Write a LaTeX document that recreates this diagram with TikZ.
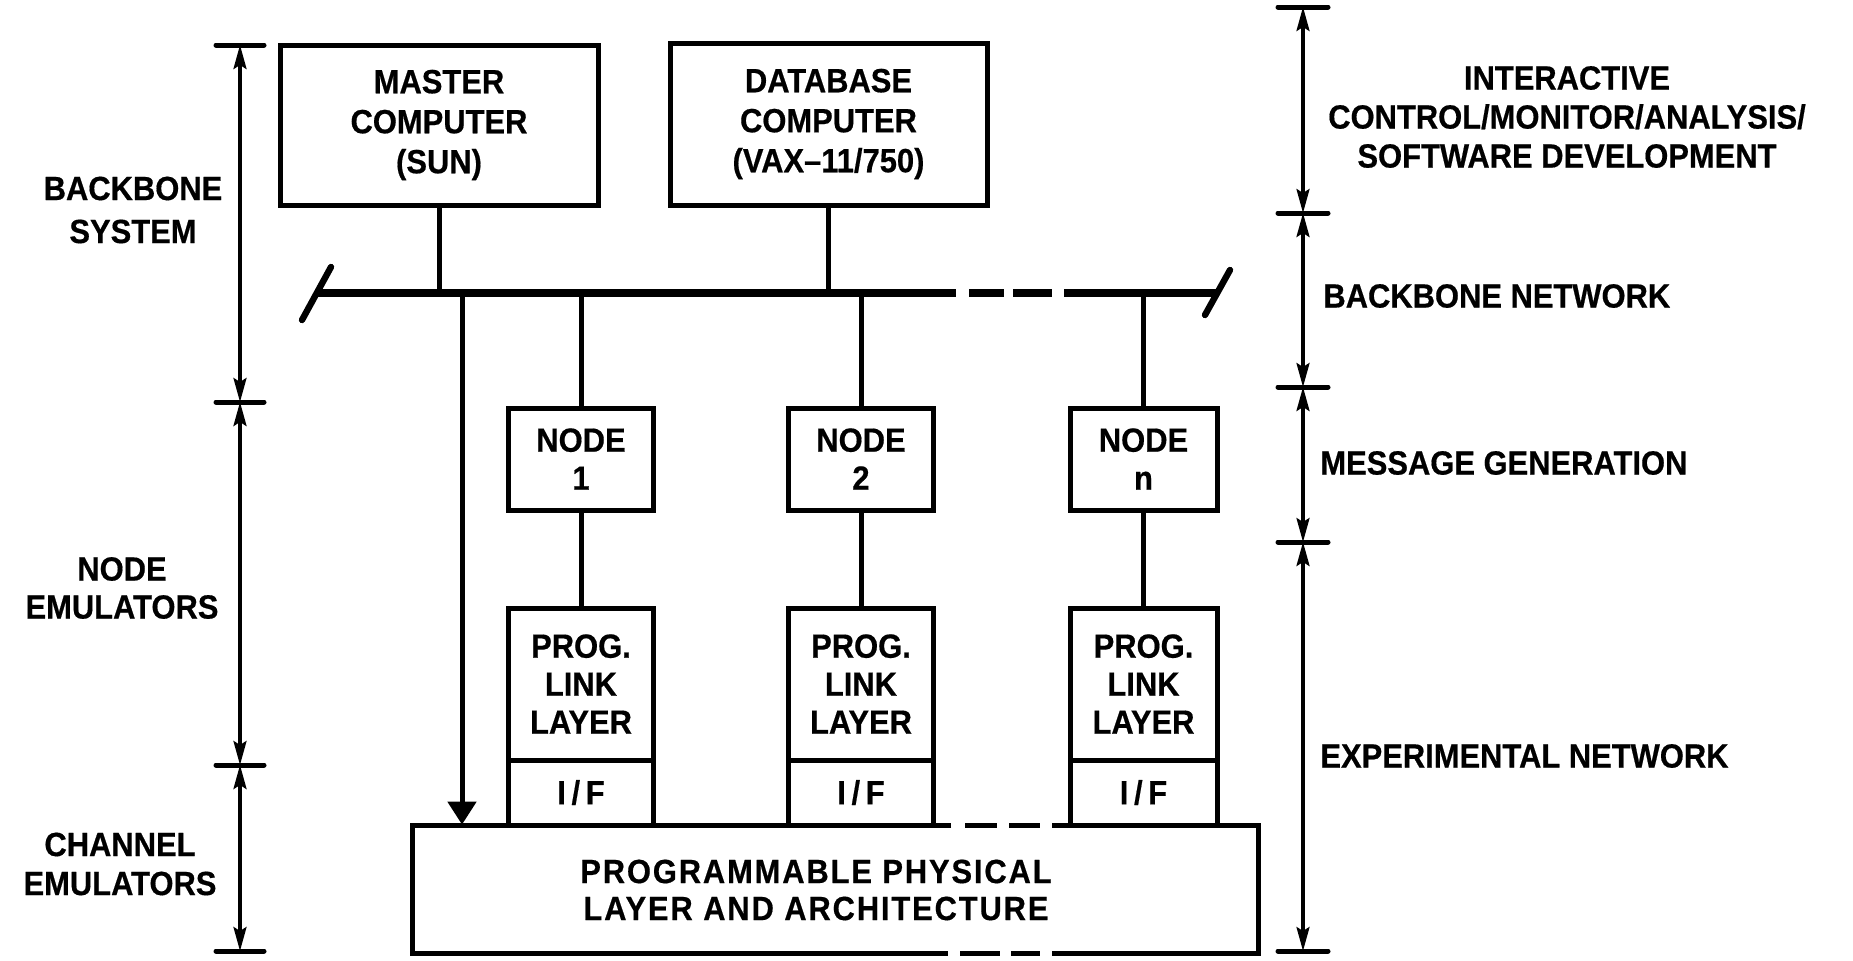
\documentclass[tikz,border=0pt]{standalone}
\usepackage{fontspec}
\newfontfamily\lbl{Liberation Sans}[FakeStretch=0.92, FakeBold=0.5]
\newfontfamily\lblwide{Liberation Sans}[FakeStretch=0.92, FakeBold=0.5, LetterSpace=5.5]
\usetikzlibrary{arrows.meta,calc}
\begin{document}
\begin{tikzpicture}[x=0.5pt,y=-0.5pt,
  every node/.style={font=\lbl\bfseries\fontsize{16.8}{20}\selectfont, align=center, inner sep=0pt},
  box/.style={draw, line width=2.5pt, rectangle},
  wire/.style={line width=2.5pt},
  bus/.style={line width=3.6pt},
  slash/.style={line width=3.2pt, line cap=round},
  dim/.style={line width=1.6pt, {Stealth[length=12pt,width=6.5pt,inset=2pt]}-{Stealth[length=12pt,width=6.5pt,inset=2pt]}},
  tickmark/.style={line width=2.5pt, line cap=round},
  bigarrow/.style={line width=2.5pt, -{Triangle[length=11.5pt,width=14pt]}}]
\useasboundingbox (0,0) rectangle (1853,960);

% top computers
\node[box, minimum width=159pt, minimum height=80pt] (master) at (439,125) {MASTER\\COMPUTER\\(SUN)};
\node[box, minimum width=158.5pt, minimum height=81pt] (db) at (828.5,124) {DATABASE\\COMPUTER\\(VAX–11/750)};

% node emulators
\node[box, minimum width=72.5pt, minimum height=51pt, font=\lbl\bfseries\fontsize{16.8}{19}\selectfont] (n1) at (581,459) {NODE\\1};
\node[box, minimum width=72.5pt, minimum height=51pt, font=\lbl\bfseries\fontsize{16.8}{19}\selectfont] (n2) at (861,459) {NODE\\2};
\node[box, minimum width=73.5pt, minimum height=51pt, font=\lbl\bfseries\fontsize{16.8}{19}\selectfont] (nn) at (1143.5,459) {NODE\\n};

\node[box, minimum width=72.5pt, minimum height=76pt, font=\lbl\bfseries\fontsize{16.8}{19}\selectfont] (p1) at (581,684) {PROG.\\LINK\\LAYER};
\node[box, minimum width=72.5pt, minimum height=76pt, font=\lbl\bfseries\fontsize{16.8}{19}\selectfont] (p2) at (861,684) {PROG.\\LINK\\LAYER};
\node[box, minimum width=73.5pt, minimum height=76pt, font=\lbl\bfseries\fontsize{16.8}{19}\selectfont] (pn) at (1143.5,684) {PROG.\\LINK\\LAYER};

\node[box, minimum width=72.5pt, minimum height=32.5pt] (i1) at (581,792.5) {I\,/\,F};
\node[box, minimum width=72.5pt, minimum height=32.5pt] (i2) at (861,792.5) {I\,/\,F};
\node[box, minimum width=73.5pt, minimum height=32.5pt] (in) at (1143.5,792.5) {I\,/\,F};

% physical layer
\node[minimum width=423pt, minimum height=64pt] (ppl) at (835,889) {};
\node[font=\lblwide\bfseries\fontsize{16.8}{18.5}\selectfont] (ppltext) at (816,890) {PROGRAMMABLE PHYSICAL\\LAYER AND ARCHITECTURE};
\draw[line width=2.5pt] (951,825) -- (412,825) -- (412,953) -- (948,953);
\draw[line width=2.5pt] (1052,825) -- (1258,825) -- (1258,953) -- (1052,953);
\draw[line width=2.5pt] (965,825) -- (997,825) (1009,825) -- (1040,825);
\draw[line width=2.5pt] (960,953) -- (1000,953) (1011,953) -- (1040,953);

% backbone bus
\coordinate (busL) at (317,293);
\coordinate (busR) at (1218,293);
\draw[bus] (busL) -- (956,293);
\draw[bus] (969,293) -- (1004,293) (1013,293) -- (1052,293);
\draw[bus] (1064,293) -- (busR);
\draw[slash] (302,320) -- (331,267);
\draw[slash] (1205,315) -- (1230,270);

% stubs
\draw[wire] (master.south) -- (master.south |- busL);
\draw[wire] (db.south) -- (db.south |- busL);
\draw[wire] (n1.north) -- (n1.north |- busL);
\draw[wire] (n2.north) -- (n2.north |- busL);
\draw[wire] (nn.north) -- (nn.north |- busL);
\draw[wire] (n1.south) -- (p1.north);
\draw[wire] (n2.south) -- (p2.north);
\draw[wire] (nn.south) -- (pn.north);
\coordinate (arrtop) at (462,293);
\draw[bigarrow] (arrtop) -- (arrtop |- ppl.north);

% left dimension
\coordinate (L0) at (240,45);
\coordinate (L1) at (240,402);
\coordinate (L2) at (240,765);
\coordinate (L3) at (240,951);
\draw[dim] (L0) -- (L1);
\draw[dim] (L1) -- (L2);
\draw[dim] (L2) -- (L3);
\foreach \p in {L0,L1,L2,L3} \draw[tickmark] ($(\p)+(-24,0)$) -- ($(\p)+(24,0)$);

% right dimension
\coordinate (R0) at (1303,7);
\coordinate (R1) at (1303,213);
\coordinate (R2) at (1303,387);
\coordinate (R3) at (1303,542);
\coordinate (R4) at (1303,951);
\draw[dim] (R0) -- (R1);
\draw[dim] (R1) -- (R2);
\draw[dim] (R2) -- (R3);
\draw[dim] (R3) -- (R4);
\foreach \p in {R0,R1,R2,R3,R4} \draw[tickmark] ($(\p)+(-25,0)$) -- ($(\p)+(25,0)$);

% labels
\node[font=\lbl\bfseries\fontsize{16.8}{21.5}\selectfont] (lblbb) at (133,210) {BACKBONE\\SYSTEM};
\node[font=\lbl\bfseries\fontsize{16.8}{19}\selectfont] (lblne) at (122,588) {NODE\\EMULATORS};
\node[font=\lbl\bfseries\fontsize{16.8}{19.5}\selectfont] (lblce) at (120,864) {CHANNEL\\EMULATORS};
\node[font=\lbl\bfseries\fontsize{16.8}{19.5}\selectfont] (lblia) at (1567,117) {INTERACTIVE\\CONTROL/MONITOR/ANALYSIS/\\SOFTWARE DEVELOPMENT};
\node[anchor=west] (lblbn) at (1323,296) {BACKBONE NETWORK};
\node[anchor=west] (lblmg) at (1320,463) {MESSAGE GENERATION};
\node[anchor=west] (lblen) at (1320,756) {EXPERIMENTAL NETWORK};
\end{tikzpicture}
\end{document}
